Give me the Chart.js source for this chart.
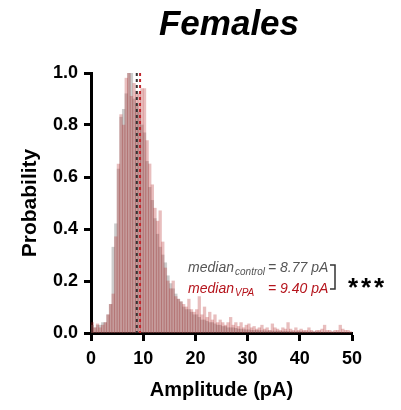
<!DOCTYPE html>
<html>
<head>
<meta charset="utf-8">
<script src="https://cdn.jsdelivr.net/npm/chart.js@4.4.1/dist/chart.umd.min.js"></script>
<style>
  html, body { margin: 0; padding: 0; background: #fff; }
  #wrap { width: 401px; height: 410px; position: relative; }
</style>
</head>
<body>
<div id="wrap"><canvas id="chart"></canvas></div>
<script>
// Amplitude histogram, 0.5 pA bins (bin centres)
const binCenters = [
  0.25, 0.75, 1.25, 1.75, 2.25, 2.75, 3.25, 3.75, 4.25, 4.75,
  5.25, 5.75, 6.25, 6.75, 7.25, 7.75, 8.25, 8.75, 9.25, 9.75,
  10.25, 10.75, 11.25, 11.75, 12.25, 12.75, 13.25, 13.75, 14.25, 14.75,
  15.25, 15.75, 16.25, 16.75, 17.25, 17.75, 18.25, 18.75, 19.25, 19.75,
  20.25, 20.75, 21.25, 21.75, 22.25, 22.75, 23.25, 23.75, 24.25, 24.75,
  25.25, 25.75, 26.25, 26.75, 27.25, 27.75, 28.25, 28.75, 29.25, 29.75,
  30.25, 30.75, 31.25, 31.75, 32.25, 32.75, 33.25, 33.75, 34.25, 34.75,
  35.25, 35.75, 36.25, 36.75, 37.25, 37.75, 38.25, 38.75, 39.25, 39.75,
  40.25, 40.75, 41.25, 41.75, 42.25, 42.75, 43.25, 43.75, 44.25, 44.75,
  45.25, 45.75, 46.25, 46.75, 47.25, 47.75, 48.25, 48.75, 49.25, 49.75
];

const controlProb = [
  0.03, 0.02, 0.03, 0.03, 0.04, 0.04, 0.07, 0.11, 0.33, 0.42,
  0.63, 0.83, 0.86, 0.92, 1.00, 1.00, 0.90, 0.88, 0.85, 0.80,
  0.77, 0.66, 0.56, 0.51, 0.44, 0.38, 0.33, 0.30, 0.27, 0.22,
  0.19, 0.17, 0.15, 0.13, 0.12, 0.10, 0.09, 0.09, 0.08, 0.07,
  0.07, 0.06, 0.05, 0.05, 0.045, 0.04, 0.04, 0.035, 0.03, 0.03,
  0.025, 0.025, 0.02, 0.02, 0.02, 0.018, 0.015, 0.015, 0.013, 0.012,
  0.012, 0.01, 0.01, 0.01, 0.009, 0.009, 0.008, 0.008, 0.008, 0.007,
  0.007, 0.007, 0.006, 0.006, 0.006, 0.006, 0.005, 0.005, 0.005, 0.005,
  0.005, 0.005, 0.004, 0.004, 0.004, 0.004, 0.004, 0.004, 0.003, 0.003,
  0.003, 0.003, 0.003, 0.003, 0.003, 0.002, 0.002, 0.002, 0.002, 0.002
];

const vpaProb = [
  0.04, 0.02, 0.035, 0.02, 0.03, 0.04, 0.07, 0.11, 0.15, 0.37,
  0.65, 0.84, 0.80, 0.98, 1.00, 0.91, 0.96, 0.93, 0.92, 0.94,
  0.94, 0.74, 0.65, 0.57, 0.48, 0.43, 0.47, 0.35, 0.25, 0.20,
  0.17, 0.20, 0.14, 0.13, 0.12, 0.11, 0.10, 0.13, 0.09, 0.08,
  0.09, 0.14, 0.07, 0.10, 0.06, 0.08, 0.05, 0.07, 0.04, 0.05,
  0.04, 0.03, 0.04, 0.06, 0.03, 0.04, 0.025, 0.04, 0.02, 0.03,
  0.035, 0.02, 0.025, 0.015, 0.02, 0.03, 0.015, 0.02, 0.01, 0.035,
  0.02, 0.015, 0.01, 0.02, 0.015, 0.04, 0.015, 0.01, 0.02, 0.01,
  0.015, 0.01, 0.01, 0.02, 0.01, 0.005, 0.01, 0.01, 0.015, 0.03,
  0.01, 0.01, 0.005, 0.01, 0.01, 0.03, 0.015, 0.01, 0.01, 0.005
];

const medianControl = 8.77;
const medianVpa = 9.40;

const xTicks = [0, 10, 20, 30, 40, 50];
const yTicks = [0, 0.2, 0.4, 0.6, 0.8, 1.0];

const FONT = '"Liberation Sans", Arial, Helvetica, sans-serif';

// Title, median lines and the median annotation
const overlayPlugin = {
  id: 'overlay',
  afterDatasetsDraw(chart) {
    const { ctx, chartArea, scales: { x } } = chart;
    ctx.save();
    ctx.lineWidth = 2;
    ctx.setLineDash([3, 3]);
    [[medianControl, '#333333'], [medianVpa, '#c0262c']].forEach(([m, c]) => {
      const px = x.getPixelForValue(m);
      ctx.strokeStyle = c;
      ctx.beginPath();
      ctx.moveTo(px, chartArea.top);
      ctx.lineTo(px, chartArea.bottom);
      ctx.stroke();
    });
    ctx.restore();
  },
  afterDraw(chart) {
    const { ctx, scales: { x, y } } = chart;
    ctx.save();

    // title
    ctx.fillStyle = '#000';
    ctx.font = `italic bold 35px ${FONT}`;
    ctx.textAlign = 'center';
    ctx.textBaseline = 'alphabetic';
    ctx.fillText('Females', 229, 35);

    // median text
    const left = x.getPixelForValue(18.6);
    const eqX = x.getPixelForValue(33.9);
    const rows = [
      { sub: 'control', val: '= ' + medianControl.toFixed(2) + ' pA', color: '#555555', base: y.getPixelForValue(0.235) },
      { sub: 'VPA', val: '= ' + medianVpa.toFixed(2) + ' pA', color: '#b5141c', base: y.getPixelForValue(0.154) }
    ];
    ctx.textAlign = 'left';
    rows.forEach(r => {
      ctx.fillStyle = r.color;
      ctx.font = `italic 14px ${FONT}`;
      ctx.fillText('median', left, r.base);
      const w = ctx.measureText('median').width;
      ctx.font = `italic 10px ${FONT}`;
      ctx.fillText(r.sub, left + w + 1, r.base + 3);
      ctx.font = `italic 14px ${FONT}`;
      ctx.fillText(r.val, eqX, r.base);
    });

    // bracket
    const bx = 335;
    const by0 = y.getPixelForValue(0.262);
    const by1 = y.getPixelForValue(0.169);
    ctx.strokeStyle = '#333';
    ctx.lineWidth = 1.5;
    ctx.beginPath();
    ctx.moveTo(bx - 5, by0);
    ctx.lineTo(bx, by0);
    ctx.lineTo(bx, by1);
    ctx.lineTo(bx - 5, by1);
    ctx.stroke();

    // significance stars
    ctx.fillStyle = '#000';
    ctx.font = `bold 26px ${FONT}`;
    ctx.textAlign = 'center';
    for (let i = 0; i < 3; i++) {
      ctx.fillText('*', 353 + i * 13, 296);
    }
    ctx.restore();
  }
};

const toPoints = vals => vals.map((v, i) => ({ x: binCenters[i], y: v }));

new Chart(document.getElementById('chart'), {
  type: 'bar',
  data: {
    datasets: [
      {
        label: 'VPA',
        data: toPoints(vpaProb),
        backgroundColor: 'rgba(180,40,40,0.30)',
        borderWidth: 0,
        inflateAmount: 0.35,
        order: 1,
      },
      {
        label: 'control',
        data: toPoints(controlProb),
        backgroundColor: 'rgba(120,120,120,0.38)',
        borderWidth: 0,
        inflateAmount: 0.35,
        order: 2,
      }
    ]
  },
  options: {
    responsive: true,
    maintainAspectRatio: false,
    animation: false,
    grouped: false,
    barPercentage: 1,
    categoryPercentage: 1,
    layout: { padding: { left: 0, right: 49, top: 73, bottom: 0 } },
    plugins: {
      legend: { display: false },
      tooltip: { enabled: false },
    },
    scales: {
      x: {
        type: 'linear',
        min: 0,
        max: 50,
        offset: false,
        z: 1,
        afterFit: s => { s.height = 77; },
        afterBuildTicks: s => { s.ticks = xTicks.map(v => ({ value: v })); },
        grid: { drawOnChartArea: false, drawTicks: true, tickLength: 8, tickWidth: 3, tickColor: '#000', offset: false },
        border: { display: true, width: 3, color: '#000' },
        ticks: { color: '#000', padding: 7, font: { family: FONT, size: 18, weight: 'bold' } },
        title: { display: true, text: 'Amplitude (pA)', color: '#000', padding: { top: 0, bottom: 8 }, font: { family: FONT, size: 20, weight: 'bold' } },
      },
      y: {
        min: 0,
        max: 1,
        z: 1,
        afterFit: s => { s.width = 91; },
        afterBuildTicks: s => { s.ticks = yTicks.map(v => ({ value: v })); },
        grid: { drawOnChartArea: false, drawTicks: true, tickLength: 7, tickWidth: 3, tickColor: '#000' },
        border: { display: true, width: 3, color: '#000' },
        ticks: { color: '#000', padding: 6, font: { family: FONT, size: 18, weight: 'bold' }, callback: v => v.toFixed(1) },
        title: { display: true, text: 'Probability', color: '#000', padding: { top: 18, bottom: 0 }, font: { family: FONT, size: 21, weight: 'bold' } },
      }
    }
  },
  plugins: [overlayPlugin]
});
</script>
</body>
</html>
